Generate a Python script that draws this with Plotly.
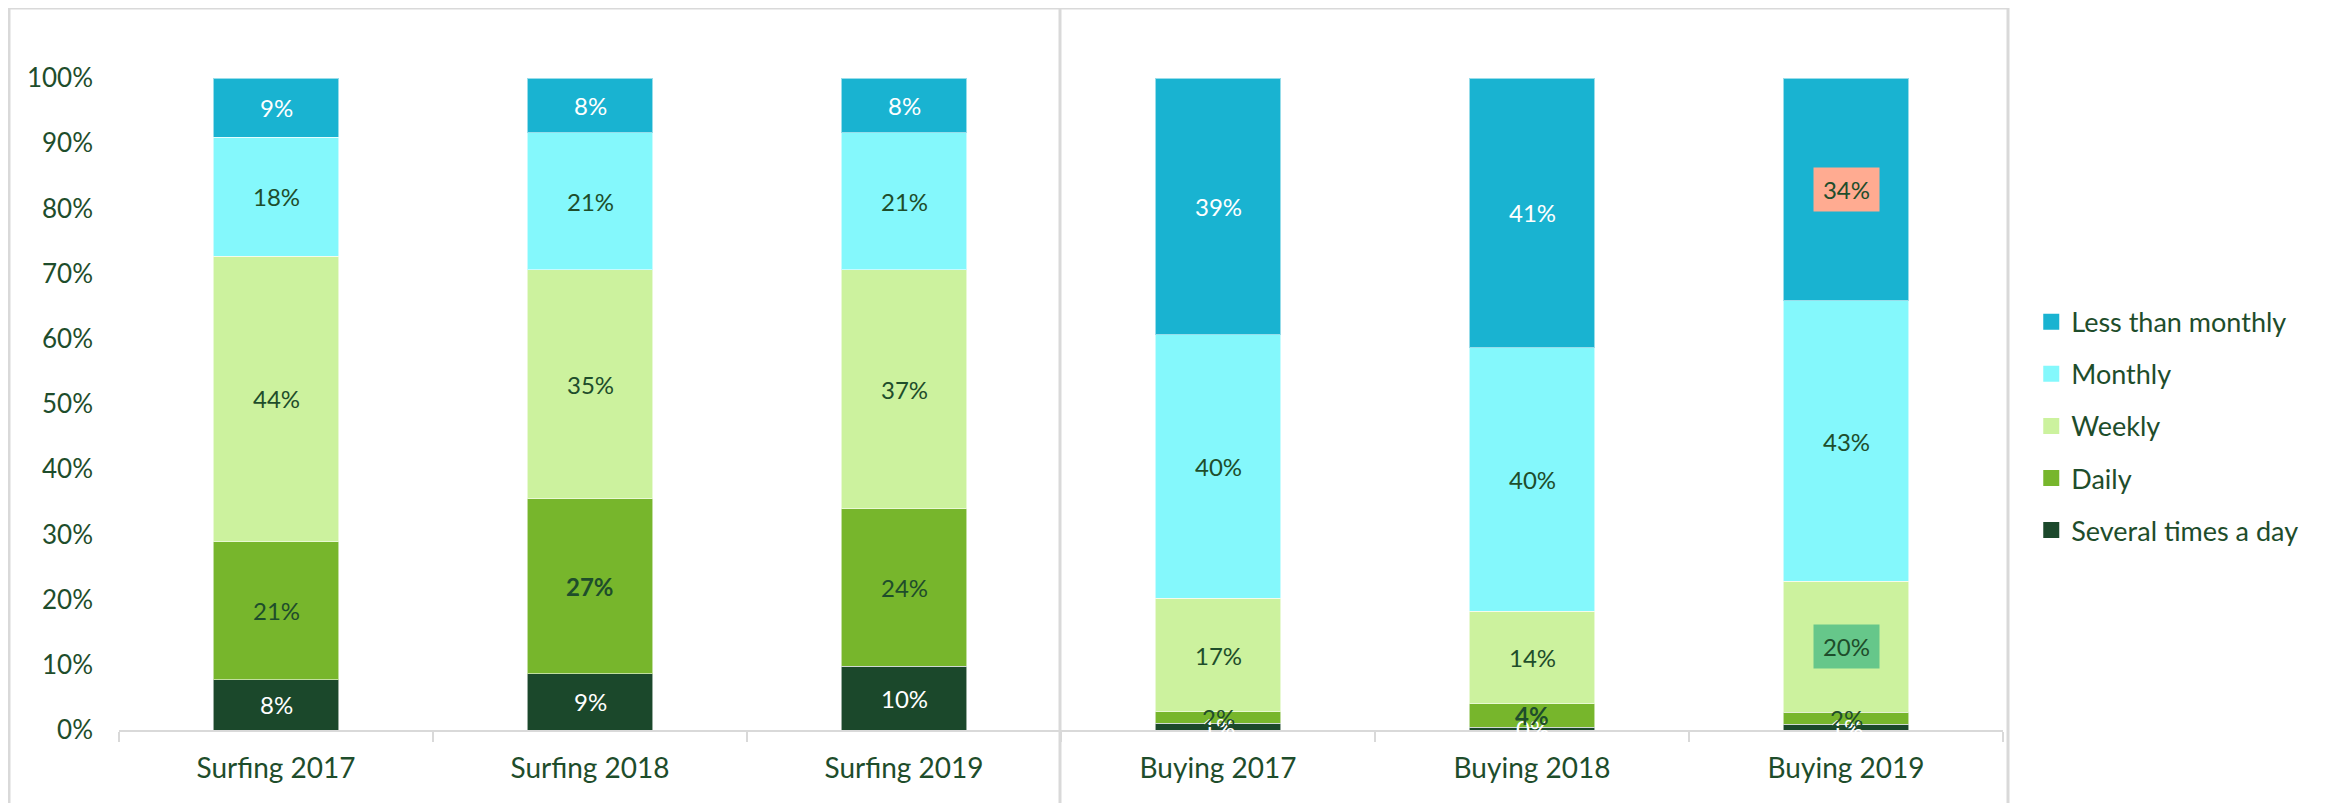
import plotly.graph_objects as go

# ---------------- data ----------------
categories = ["Surfing 2017", "Surfing 2018", "Surfing 2019",
              "Buying 2017", "Buying 2018", "Buying 2019"]

several_times_a_day = [0.077, 0.086, 0.098, 0.010, 0.004, 0.009]
daily = [0.212, 0.269, 0.241, 0.018, 0.036, 0.018]
weekly = [0.438, 0.351, 0.367, 0.174, 0.142, 0.201]
monthly = [0.182, 0.210, 0.210, 0.404, 0.404, 0.430]
less_than_monthly = [0.091, 0.084, 0.084, 0.394, 0.414, 0.342]

y_ticks = [0, 0.1, 0.2, 0.3, 0.4, 0.5, 0.6, 0.7, 0.8, 0.9, 1.0]

# ---------------- style ----------------
FONT = "Lato"
TXT = "#1E4D2B"
GRID = "#D9D9D9"

series = [
    ("Several times a day", several_times_a_day, "#1B482B", "white"),
    ("Daily", daily, "#77B62C", TXT),
    ("Weekly", weekly, "#CCF29E", TXT),
    ("Monthly", monthly, "#84F8FC", TXT),
    ("Less than monthly", less_than_monthly, "#19B3D1", "white"),
]
bold_labels = {("Surfing 2018", "Daily"), ("Buying 2018", "Daily")}
highlight_labels = {("Buying 2019", "Less than monthly"): "#FFAB91",
                    ("Buying 2019", "Weekly"): "#66C78A"}

fig = go.Figure()

for name, vals, color, _ in series:
    fig.add_trace(go.Bar(
        x=categories, y=vals, name=name,
        marker=dict(color=color, line=dict(color="rgba(255,255,255,0.55)", width=1)),
        showlegend=False, hoverinfo="skip",
    ))

# data labels centred in each segment
annotations = []
base = [0.0] * len(categories)
for name, vals, color, tcolor in series:
    for i, cat in enumerate(categories):
        v = vals[i]
        mid = base[i] + v / 2
        txt = f"{v * 100:.0f}%"
        if (cat, name) in bold_labels:
            txt = f"<b>{txt}</b>"
        ann = dict(x=cat, y=mid, xref="x", yref="y", text=txt, showarrow=False,
                   font=dict(family=FONT, size=24, color=tcolor))
        if (cat, name) in highlight_labels:
            ann.update(bgcolor=highlight_labels[(cat, name)], width=63, height=41,
                       font=dict(family=FONT, size=24, color=TXT))
        annotations.append(ann)
        base[i] += v

# legend (top to bottom)
for name, vals, color, _ in reversed(series):
    fig.add_trace(go.Scatter(
        x=[None], y=[None], mode="markers", name=name, legendgroup=name,
        marker=dict(symbol="square", size=17, color=color, line=dict(width=0)),
        hoverinfo="skip",
    ))

# frame lines (two chart boxes); positions relative to the plot area
PLOT_L, PLOT_W, PLOT_B, PLOT_H = 119, 1884, 730, 652

def px_x(p):
    return (p - PLOT_L) / PLOT_W

def px_y(p):
    return (PLOT_B - p) / PLOT_H

shapes = [
    dict(type="line", xref="paper", yref="paper", x0=px_x(9), x1=px_x(2008),
         y0=px_y(8), y1=px_y(8), line=dict(color=GRID, width=3), layer="below"),
]
for xv in (9, 1060, 2008):
    shapes.append(dict(type="line", xref="paper", yref="paper", x0=px_x(xv), x1=px_x(xv),
                       y0=px_y(8), y1=px_y(830), line=dict(color=GRID, width=3),
                       layer="below"))

# page body has an 8px margin: shift the figure so it lines up with the window
fig.update_layout(
    width=2318, height=795,
    margin=dict(l=111, r=323, t=70, b=73),
    paper_bgcolor="white", plot_bgcolor="white",
    barmode="stack", bargap=0.6,
    font=dict(family=FONT, color=TXT),
    annotations=annotations,
    shapes=shapes,
    legend=dict(x=1.015, xanchor="left", y=0.466, yanchor="middle",
                traceorder="grouped", tracegroupgap=14,
                font=dict(family=FONT, size=27, color=TXT),
                bgcolor="rgba(0,0,0,0)"),
    xaxis=dict(
        type="category", showline=True, linecolor=GRID, linewidth=2,
        ticks="outside", tickson="boundaries", ticklen=10, tickwidth=2,
        tickcolor=GRID, showgrid=False, zeroline=False,
        ticklabelstandoff=12,
        tickfont=dict(family=FONT, size=28, color=TXT),
    ),
    yaxis=dict(
        range=[0, 1], tickvals=y_ticks, tickformat=".0%",
        showgrid=False, zeroline=False, showline=False,
        ticklabelstandoff=25,
        tickfont=dict(family=FONT, size=26, color=TXT),
    ),
)

fig.write_html("out.html")
